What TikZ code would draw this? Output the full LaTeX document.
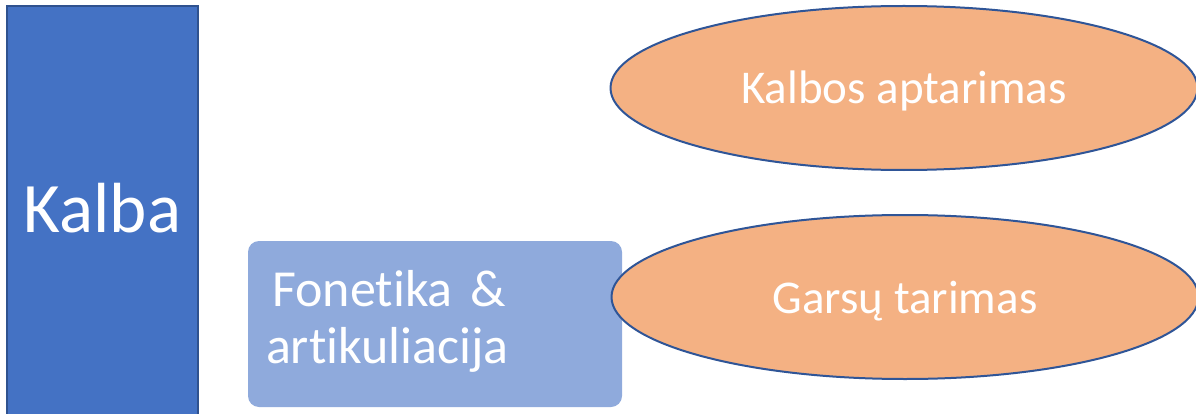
\documentclass[tikz,border=0pt]{standalone}
\usepackage{fontspec}
\setmainfont[Ligatures = NoCommon]{Carlito}
\usetikzlibrary{shapes.geometric}

\definecolor{kalbablue}{HTML}{4472C4}
\definecolor{kalbaedge}{HTML}{2F528F}
\definecolor{fonblue}{HTML}{8FAADC}
\definecolor{ovalorange}{HTML}{F4B183}
\definecolor{ovaledge}{HTML}{2F5597}

% shift a label up or down without changing the box that the node sees
\newcommand{\liftby}[2]{\raisebox{#1}[\height][\depth]{#2}}

\begin{document}
\begin{tikzpicture}[x = 1pt, y = 1pt,
    every node/.style = {text = white, inner sep = 0pt},
    mainbar/.style = {rectangle, draw = kalbaedge, line width = 1.5pt, fill = kalbablue,
        minimum width = 191pt, minimum height = 414pt, font = \fontsize{71}{84}\selectfont},
    topicbox/.style = {rectangle, rounded corners = 11pt, fill = fonblue,
        minimum width = 374pt, minimum height = 166pt, text width = 338pt,
        align = left, font = \fontsize{52}{57}\selectfont},
    topicoval/.style = {ellipse, draw = ovaledge, line width = 2pt, fill = ovalorange,
        minimum width = 587pt, minimum height = 164pt, font = \fontsize{47}{56}\selectfont}]
    \useasboundingbox (0,0) rectangle (1196,413);
    \clip (0,0) rectangle (1196,413);
    \node[mainbar] (kalba) at (102.5,200) {\liftby{5pt}{Kalba}};
    \node[topicbox] (fonetika) at (435,89) {\liftby{3pt}{\parbox{338pt}{\hspace{0.12em}Fonetika \&\\artikuliacija}}};
    \node[topicoval] (aptarimas) at (904,325) {\liftby{-3pt}{Kalbos aptarimas}};
    \node[topicoval] (tarimas) at (905,116) {\liftby{-4pt}{Garsų tarimas}};
\end{tikzpicture}
\end{document}
